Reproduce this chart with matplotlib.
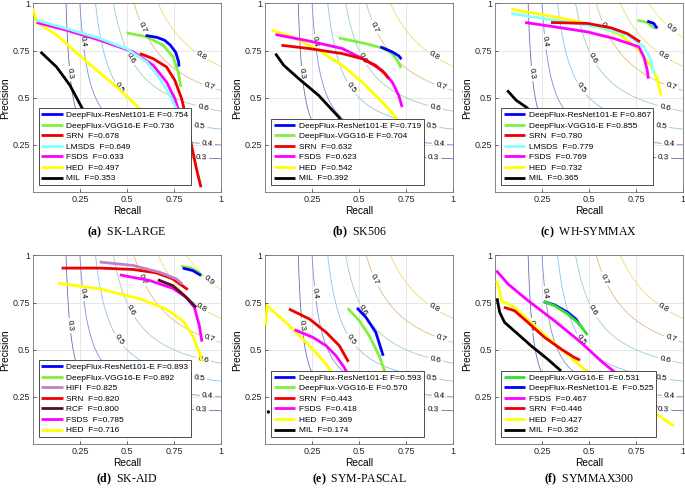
import numpy as np
import matplotlib
matplotlib.use('Agg')
import matplotlib.pyplot as plt

plt.rcParams['font.family'] = ['Liberation Sans', 'DejaVu Sans']
plt.rcParams['mathtext.fontset'] = 'custom'
plt.rcParams['mathtext.rm'] = 'Liberation Serif'
plt.rcParams['mathtext.bf'] = 'Liberation Serif:bold'

# ---------------- data ----------------
tick_vals = [0.25, 0.5, 0.75, 1.0]
tick_labels = ['0.25', '0.5', '0.75', '1']
iso_levels = [0.3, 0.4, 0.5, 0.6, 0.7, 0.8, 0.9]

titles = ['(a)', '(b)', '(c)', '(d)', '(e)', '(f)']
datasets = ['SK-LARGE', 'SK506', 'WH-SYMMAX', 'SK-AID', 'SYM-PASCAL', 'SYMMAX300']

# (a) SK-LARGE
a_names = ['DeepFlux-ResNet101-E', 'DeepFlux-VGG16-E', 'SRN', 'LMSDS', 'FSDS', 'HED', 'MIL']
a_fscores = [0.754, 0.736, 0.678, 0.649, 0.633, 0.497, 0.353]
a_recall = [
    [0.60, 0.66, 0.70, 0.73, 0.76, 0.775, 0.777],
    [0.498, 0.605, 0.693, 0.746, 0.773, 0.787],
    [0.569, 0.64, 0.711, 0.755, 0.791, 0.817, 0.844, 0.87, 0.894],
    [0.02, 0.179, 0.356, 0.498, 0.605, 0.676, 0.729, 0.764, 0.78],
    [0.02, 0.179, 0.356, 0.534, 0.64, 0.711, 0.755, 0.773, 0.78],
    [0.0, 0.02, 0.126, 0.268, 0.445, 0.551, 0.62],
    [0.041, 0.126, 0.197, 0.259, 0.30],
]
a_precision = [
    [0.83, 0.82, 0.805, 0.78, 0.74, 0.69, 0.665],
    [0.844, 0.823, 0.778, 0.716, 0.637, 0.557],
    [0.734, 0.707, 0.663, 0.592, 0.495, 0.388, 0.246, 0.122, 0.025],
    [0.911, 0.867, 0.814, 0.76, 0.69, 0.601, 0.512, 0.44, 0.38],
    [0.899, 0.858, 0.805, 0.743, 0.672, 0.583, 0.495, 0.44, 0.38],
    [0.973, 0.902, 0.832, 0.707, 0.557, 0.459, 0.38],
    [0.743, 0.663, 0.566, 0.45, 0.38],
]

# (b) SK506
b_names = ['DeepFlux-ResNet101-E', 'DeepFlux-VGG16-E', 'SRN', 'FSDS', 'HED', 'MIL']
b_fscores = [0.719, 0.704, 0.632, 0.623, 0.542, 0.392]
b_recall = [
    [0.613, 0.676, 0.711, 0.725],
    [0.392, 0.534, 0.622, 0.676, 0.702, 0.723],
    [0.087, 0.232, 0.41, 0.516, 0.587, 0.637, 0.658],
    [0.055, 0.232, 0.41, 0.534, 0.622, 0.676, 0.711, 0.729],
    [0.034, 0.144, 0.268, 0.41, 0.534, 0.64, 0.693, 0.72],
    [0.055, 0.099, 0.179, 0.285, 0.392, 0.42],
]
b_precision = [
    [0.77, 0.743, 0.722, 0.704],
    [0.817, 0.787, 0.764, 0.734, 0.699, 0.658],
    [0.778, 0.761, 0.734, 0.707, 0.672, 0.628, 0.601],
    [0.835, 0.801, 0.761, 0.699, 0.645, 0.583, 0.512, 0.45],
    [0.858, 0.823, 0.761, 0.672, 0.566, 0.459, 0.397, 0.35],
    [0.734, 0.672, 0.601, 0.512, 0.397, 0.36],
]

# (c) WH-SYMMAX
c_names = ['DeepFlux-ResNet101-E', 'DeepFlux-VGG16-E', 'SRN', 'LMSDS', 'FSDS', 'HED', 'MIL']
c_fscores = [0.867, 0.855, 0.780, 0.779, 0.769, 0.732, 0.365]
c_recall = [
    [0.81, 0.845, 0.862],
    [0.757, 0.81, 0.85],
    [0.298, 0.492, 0.616, 0.704, 0.771],
    [0.086, 0.316, 0.545, 0.704, 0.792, 0.827, 0.845],
    [0.16, 0.316, 0.492, 0.633, 0.765, 0.792, 0.81, 0.815],
    [0.086, 0.316, 0.527, 0.668, 0.757, 0.827, 0.862, 0.884],
    [0.065, 0.113, 0.166, 0.2],
]
c_precision = [
    [0.906, 0.894, 0.867],
    [0.911, 0.899, 0.867],
    [0.899, 0.894, 0.871, 0.84, 0.796],
    [0.947, 0.911, 0.876, 0.832, 0.77, 0.707, 0.628],
    [0.899, 0.876, 0.849, 0.814, 0.77, 0.716, 0.645, 0.601],
    [0.97, 0.929, 0.885, 0.832, 0.761, 0.672, 0.601, 0.512],
    [0.539, 0.486, 0.45, 0.42],
]

# (d) SK-AID
d_names = ['DeepFlux-ResNet101-E', 'DeepFlux-VGG16-E', 'HIFI', 'SRN', 'RCF', 'FSDS', 'HED']
d_fscores = [0.893, 0.892, 0.825, 0.820, 0.800, 0.785, 0.716]
d_recall = [
    [0.797, 0.85, 0.894],
    [0.788, 0.841, 0.885, 0.899],
    [0.356, 0.533, 0.674, 0.762, 0.794],
    [0.153, 0.356, 0.533, 0.656, 0.744, 0.788, 0.824],
    [0.665, 0.744, 0.806, 0.841, 0.868],
    [0.462, 0.621, 0.744, 0.815, 0.859, 0.885, 0.899],
    [0.131, 0.356, 0.568, 0.709, 0.797, 0.85, 0.885, 0.899],
]
d_precision = [
    [0.933, 0.92, 0.894],
    [0.943, 0.933, 0.908, 0.89],
    [0.965, 0.947, 0.911, 0.876, 0.849],
    [0.933, 0.933, 0.926, 0.908, 0.876, 0.844, 0.819],
    [0.871, 0.84, 0.787, 0.752, 0.725],
    [0.897, 0.867, 0.826, 0.778, 0.725, 0.628, 0.543],
    [0.853, 0.823, 0.77, 0.716, 0.654, 0.574, 0.486, 0.441],
]

# (e) SYM-PASCAL
e_names = ['DeepFlux-ResNet101-E', 'DeepFlux-VGG16-E', 'SRN', 'FSDS', 'HED', 'MIL']
e_fscores = [0.593, 0.570, 0.443, 0.418, 0.369, 0.174]
e_recall = [
    [0.489, 0.536, 0.589, 0.628],
    [0.439, 0.501, 0.554, 0.607, 0.638, 0.66],
    [0.127, 0.236, 0.325, 0.395, 0.443],
    [0.157, 0.254, 0.325, 0.377, 0.421, 0.44],
    [0.002, 0.011, 0.06, 0.148, 0.236, 0.325, 0.36],
    [0.015, 0.02],
]
e_precision = [
    [0.722, 0.672, 0.592, 0.468],
    [0.72, 0.654, 0.574, 0.468, 0.379, 0.32],
    [0.716, 0.663, 0.592, 0.521, 0.436],
    [0.606, 0.566, 0.521, 0.468, 0.406, 0.37],
    [0.628, 0.734, 0.69, 0.61, 0.521, 0.424, 0.37],
    [0.178, 0.162],
]

# (f) SYMMAX300
f_names = ['DeepFlux-VGG16-E ', 'DeepFlux-ResNet101-E ', 'FSDS', 'SRN', 'HED', 'MIL']
f_fscores = [0.531, 0.525, 0.467, 0.446, 0.427, 0.362]
f_recall = [
    [0.259, 0.316, 0.386, 0.448, 0.492],
    [0.259, 0.316, 0.386, 0.43, 0.453],
    [0.007, 0.069, 0.175, 0.316, 0.457, 0.563, 0.70, 0.827, 0.862],
    [0.048, 0.104, 0.175, 0.263, 0.351, 0.422, 0.452],
    [0.007, 0.016, 0.034, 0.104, 0.228, 0.351, 0.474, 0.65, 0.845, 0.951],
    [0.011, 0.025, 0.051, 0.122, 0.192, 0.28, 0.351],
]
f_precision = [
    [0.755, 0.734, 0.69, 0.637, 0.578],
    [0.755, 0.738, 0.699, 0.663, 0.628],
    [0.92, 0.849, 0.761, 0.654, 0.539, 0.441, 0.33, 0.229, 0.193],
    [0.725, 0.707, 0.645, 0.566, 0.504, 0.459, 0.445],
    [0.867, 0.849, 0.761, 0.725, 0.61, 0.504, 0.397, 0.28, 0.167, 0.096],
    [0.773, 0.699, 0.645, 0.583, 0.521, 0.45, 0.388],
]

# ---------------- styling ----------------
method_colors = {
    'DeepFlux-ResNet101-E': '#0000ff',
    'DeepFlux-VGG16-E': '#80f040',
    'SRN': '#ee0000',
    'LMSDS': '#88ffff',
    'FSDS': '#ff00ff',
    'HED': '#ffff00',
    'MIL': '#000000',
    'HIFI': '#c080c8',
    'RCF': '#501020',
}
iso_colors = ['#6a6ab8', '#7a8ee0', '#8cc4ec', '#9ad6a6', '#e4b880', '#f0d870', '#f0e860']
label_pos = [(0.193, 0.628), (0.897, 0.179), (0.25, 0.796), (0.927, 0.255),
             (0.454, 0.548), (0.888, 0.353), (0.516, 0.707), (0.906, 0.45),
             (0.585, 0.876), (0.938, 0.557), (0.897, 0.721)]
label_pos_09 = [(0.935, 0.863)]
show_09 = [False, False, True, True, False, False]

panels = [
    (a_names, a_fscores, a_recall, a_precision),
    (b_names, b_fscores, b_recall, b_precision),
    (c_names, c_fscores, c_recall, c_precision),
    (d_names, d_fscores, d_recall, d_precision),
    (e_names, e_fscores, e_recall, e_precision),
    (f_names, f_fscores, f_recall, f_precision),
]

fig = plt.figure(figsize=(6.85, 4.91), dpi=100)
col_left = [0.048, 0.387, 0.7226]
row_bottom = [0.609, 0.0957]
W, H = 0.2745, 0.384

rr = np.linspace(0.002, 1.0, 400)
RR, PP = np.meshgrid(rr, rr)
FF = 2 * RR * PP / (RR + PP)

for i, (names, fs, recs, precs) in enumerate(panels):
    row, col = divmod(i, 3)
    ax = fig.add_axes([col_left[col], row_bottom[row], W, H])
    ax.set_xlim(0, 1)
    ax.set_ylim(0, 1)
    ax.grid(True, color='#e3e3e3', lw=0.6, zorder=0)
    ax.set_axisbelow(True)
    nlev = 7 if show_09[i] else 6
    cs = ax.contour(RR, PP, FF, levels=iso_levels[:nlev], colors=iso_colors[:nlev],
                    linewidths=0.6, zorder=1)
    pos = list(label_pos) + (label_pos_09 if show_09[i] else [])
    ax.clabel(cs, manual=pos, inline=True, fontsize=5.8, fmt='%.1f',
              colors='k', inline_spacing=2)
    handles = []
    n = len(names)
    for k, (nm, f, r, p) in enumerate(zip(names, fs, recs, precs)):
        c = method_colors[nm.strip()]
        if i == 5 and nm.strip() == 'DeepFlux-VGG16-E':
            c = '#30e030'
        ln, = ax.plot(r, p, color=c, lw=2.0, solid_capstyle='butt',
                      zorder=10 + (n - k))
        handles.append(ln)
    labels = []
    for nm, f in zip(names, fs):
        if nm.startswith('DeepFlux'):
            labels.append(f'{nm} F={f:.3f}')
        else:
            labels.append(f'{nm}  F={f:.3f}')
    leg = ax.legend(handles, labels, loc='lower left', bbox_to_anchor=(0.03, 0.035),
                    borderaxespad=0, fontsize=6, handlelength=2.6, handletextpad=0.4,
                    labelspacing=0.33, borderpad=0.35, frameon=True, fancybox=False,
                    edgecolor='#303030', framealpha=1)
    leg.get_frame().set_linewidth(0.6)
    leg.set_zorder(50)
    ax.set_xticks(tick_vals)
    ax.set_xticklabels(tick_labels)
    ax.set_yticks(tick_vals)
    ax.set_yticklabels(tick_labels)
    ax.tick_params(direction='in', length=2, width=0.5, labelsize=6.5, pad=2,
                   colors='#262626')
    for s in ax.spines.values():
        s.set_linewidth(0.6)
        s.set_color('#707070')
    ax.set_xlabel('Recall', fontsize=7.3, labelpad=1.5)
    ax.set_ylabel('Precision', fontsize=7.3, labelpad=2)
    ty = 0.527 if row == 0 else 0.024
    fig.text(col_left[col] + W / 2, ty,
             r'$\mathbf{' + titles[i] + r'}$' + '  ' + datasets[i],
             ha='center', va='center', fontsize=8.5, family='Liberation Serif')

fig.savefig('out.png', dpi=100)
